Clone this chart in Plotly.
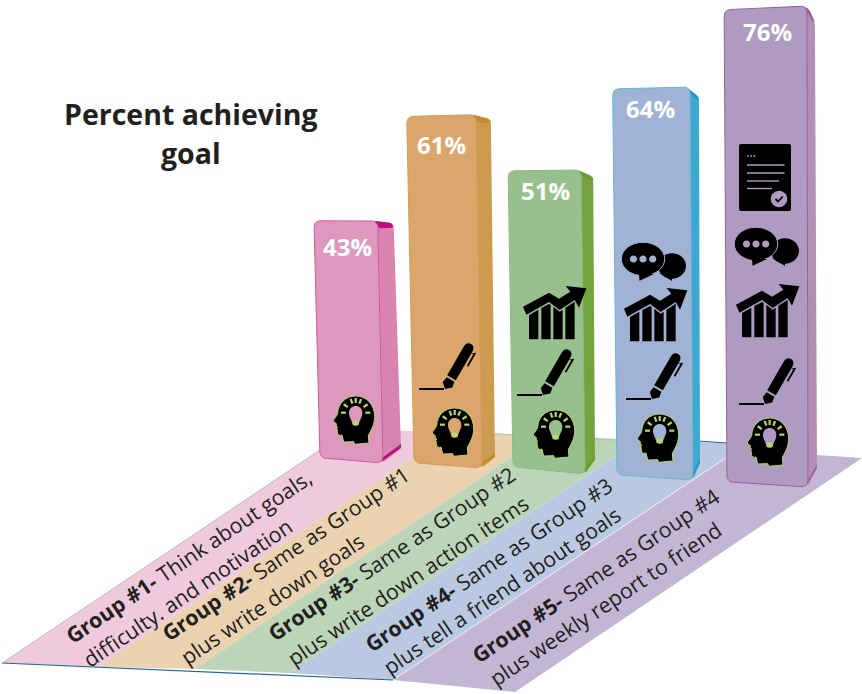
import math
import re
import plotly.graph_objects as go

# ---- chart data -------------------------------------------------------
groups = ["Group #1", "Group #2", "Group #3", "Group #4", "Group #5"]
percent_achieving = [43, 61, 51, 64, 76]
first_lines = [
    "<b>Group #1-</b> Think about goals,",
    "<b>Group #2-</b> Same as Group #1",
    "<b>Group #3-</b> Same as Group #2",
    "<b>Group #4-</b> Same as Group #3",
    "<b>Group #5-</b> Same as Group #4",
]
second_lines = [
    "difficulty. and motivation",
    "plus write down goals",
    "plus write down action items",
    "plus tell a friend about goals",
    "plus weekly report to friend",
]
title_lines = ["Percent achieving", "goal"]

# ---- palette ----------------------------------------------------------
front_colors = ["#de98bd", "#dba66b", "#98c08f", "#a0b3d4", "#af9bc2"]
side_colors = ["#d984b0", "#cc9b50", "#73a23f", "#3da9d0", "#b28fb6"]
trim_colors = ["#bd0f7f", "#c48a30", "#6c9a38", "#1f93c0", "#9a5f9f"]
edge_colors = ["#d05aa0", "#d59c55", "#8dbb80", "#62b6d6", "#9a5f9f"]
floor_colors = ["#efc9dc", "#ebd2b0", "#bcd5b8", "#bac9e1", "#c2b6d4"]
INK = "#231f20"
LIME = "#b9d765"

# ---- scene layout: bars stand on a floor seen in perspective ----------
foot_right_x = [383, 482, 585, 693, 808]
foot_right_y = [463, 468, 474, 480, 487]
foot_width = [63, 68, 72, 76, 81]
foot_tilt = [5, 5, 7, 5, 5]
top_tilt = [0, 2, 1, 2, 4]
side_top = [(16, 3), (15, 5), (12, 7), (9, 10), (8, 17)]
side_foot = [(18, -15), (13, -11), (10, -14), (7, -17), (9, -19)]
trim_depth = [6, 6, 6, 6, 1]
label_xy = [(347, 246), (441, 144), (545, 190), (650, 108), (767, 31)]
head_xy = [(333, 396), (432, 408), (533, 410), (637, 414), (747, 418)]
pen_tip_xy = [None, (445, 389), (543, 395), (652, 399), (765, 404)]
trend_xy = [None, None, (523, 286), (624, 288), (736, 284)]
talk_xy = [None, None, None, (643, 259), (756, 244)]
report_xy = [None, None, None, None, (739, 144)]
first_line_xy = [(188, 556), (285, 553), (391, 553), (488, 564), (595, 575)]
second_line_xy = [(187, 592), (272, 598), (407, 580), (501, 590), (605, 603)]
floor_strips = [
    [(2, 663), (98, 667), (413, 457), (413, 431), (351, 429)],
    [(98, 667), (195, 669), (512, 457), (512, 434), (413, 431), (413, 457)],
    [(195, 669), (290, 673), (617, 455), (617, 439), (512, 434), (512, 457)],
    [(290, 673), (393, 680), (727, 457), (727, 443), (617, 439), (617, 455)],
    [(393, 680), (515, 692), (862, 458), (727, 449), (727, 457)],
]
TEXT_ANGLE = -34
FONT = "Open Sans"


def unit_height(center_x):
    """Pixels per percentage point; nearer (right-hand) bars scale larger."""
    return 5.63 + 0.00168 * (center_x - 350)


def lean(x):
    """Horizontal drift per pixel of height, converging towards the right."""
    return (855 - x) * 4.67e-5


def rounded(points, radius):
    """Closed polygon with quadratic-rounded corners, as x and y lists."""
    xs, ys = [], []
    n = len(points)
    for i in range(n):
        p0, p1, p2 = points[i - 1], points[i], points[(i + 1) % n]
        d0 = math.dist(p0, p1)
        d2 = math.dist(p2, p1)
        r = min(radius, d0 / 2, d2 / 2)
        a = (p1[0] + (p0[0] - p1[0]) * r / d0, p1[1] + (p0[1] - p1[1]) * r / d0)
        b = (p1[0] + (p2[0] - p1[0]) * r / d2, p1[1] + (p2[1] - p1[1]) * r / d2)
        for k in range(7):
            t = k / 6
            xs.append((1 - t) ** 2 * a[0] + 2 * t * (1 - t) * p1[0] + t ** 2 * b[0])
            ys.append((1 - t) ** 2 * a[1] + 2 * t * (1 - t) * p1[1] + t ** 2 * b[1])
    xs.append(xs[0])
    ys.append(ys[0])
    return xs, ys


def polygon_trace(points, fill, line=None, width=0, radius=0):
    if radius:
        xs, ys = rounded(points, radius)
    else:
        xs = [p[0] for p in points] + [points[0][0]]
        ys = [p[1] for p in points] + [points[0][1]]
    return go.Scatter(
        x=xs, y=ys, mode="lines", fill="toself", fillcolor=fill,
        line=dict(color=line or fill, width=width), hoverinfo="skip", showlegend=False,
    )


def place(path, ox, oy, s=1.0, rot=0.0):
    """Scale, rotate and move an absolute-coordinate SVG path."""
    c, n = math.cos(math.radians(rot)), math.sin(math.radians(rot))

    def repl(m):
        x, y = float(m.group(1)) * s, float(m.group(2)) * s
        return f"{ox + x * c - y * n:.2f} {oy + x * n + y * c:.2f}"

    return re.sub(r"(-?\d+\.?\d*) (-?\d+\.?\d*)", repl, path)


def ellipse(cx, cy, rx, ry):
    k = 0.5523
    return (
        f"M{cx - rx} {cy} C{cx - rx} {cy - k * ry} {cx - k * rx} {cy - ry} {cx} {cy - ry} "
        f"C{cx + k * rx} {cy - ry} {cx + rx} {cy - k * ry} {cx + rx} {cy} "
        f"C{cx + rx} {cy + k * ry} {cx + k * rx} {cy + ry} {cx} {cy + ry} "
        f"C{cx - k * rx} {cy + ry} {cx - rx} {cy + k * ry} {cx - rx} {cy} Z"
    )


def shape(path, fill="black", line=None, width=0):
    return dict(
        type="path", path=path, xref="x", yref="y", layer="above",
        fillcolor=fill, line=dict(color=line or fill, width=width),
    )


def stroke(path, color, width):
    return dict(
        type="path", path=path, xref="x", yref="y", layer="above",
        line=dict(color=color, width=width),
    )


HEAD = (
    "M68 0 C100 0 125 25 125 62 C125 85 115 102 106 118 L108 141 L65 145 L62 137 "
    "L32 138 L27 117 C20 120 14 117 13 108 C12 103 14 100 11 97 L14 93 C9 90 9 87 "
    "11 84 L0 75 C3 68 12 60 14 52 C15 22 38 0 68 0 Z"
)
BULB = "M48 52 C48 23 88 23 88 52 C88 64 79 72 77 88 L59 88 C57 72 48 64 48 52 Z"
BULB_BASE = "M59 74 L77 74 L77 83 C75 91 61 91 59 83 Z"


def head_icon(ox, oy, bar_color):
    s = 1 / 3
    out = [shape(place(HEAD, ox, oy, s), "black", LIME, 1)]
    for angle in (180, 215, 250, 270, 292, 325, 360):
        a = math.radians(angle)
        ray = (
            f"M{68 + 29 * math.cos(a):.1f} {50 + 29 * math.sin(a):.1f} "
            f"L{68 + 44 * math.cos(a):.1f} {50 + 44 * math.sin(a):.1f}"
        )
        out.append(stroke(place(ray, ox, oy, s), LIME, 2.2))
    out.append(shape(place(BULB, ox, oy, s), bar_color))
    out.append(shape(place(BULB_BASE, ox, oy, s), LIME))
    return out


PEN_TIP = "M0 0 L5 -5.5 L11 -4.5 L11 4.5 L5 5.5 Z"
PEN_BODY = "M13 -5 L46 -5 C50 -5 52 -3 52 0 C52 3 50 5 46 5 L13 5 Z"
PEN_CLIP = "M44 5 L47 9 L31 9 L31 7.2 L44 7.2 Z"


def pen_icon(tip_x, tip_y):
    out = [stroke(f"M{tip_x - 26} {tip_y} L{tip_x - 1} {tip_y}", "black", 2)]
    for part in (PEN_TIP, PEN_BODY, PEN_CLIP):
        out.append(shape(place(part, tip_x, tip_y, 1, -60), "black"))
    return out


TREND_BAND = (
    "M0 62 L78 20 L108 38 L142 17 L128 0 L190 7 L168 65 L155 42 L110 72 L78 48 L10 86 Z"
)
TREND_COLS = [
    "M18 87 L46 71 L46 160 L18 160 Z",
    "M55 66 L78 54 L83 57 L83 160 L55 160 Z",
    "M91 62 L110 77 L119 71 L119 160 L91 160 Z",
    "M127 65 L155 47 L155 160 L127 160 Z",
]


def trend_icon(ox, oy):
    s = 1 / 3
    out = [shape(place(TREND_BAND, ox, oy, s))]
    out += [shape(place(col, ox, oy, s)) for col in TREND_COLS]
    return out


def talk_icon(cx, cy, bar_color):
    out = [
        shape(ellipse(cx + 29, cy + 7, 14, 12.7)),
        shape(f"M{cx + 16} {cy + 14} L{cx + 29} {cy + 17} L{cx + 29} {cy + 22} Z"),
        shape(ellipse(cx, cy, 21.7, 16.7), "black", bar_color, 1),
        shape(f"M{cx - 4} {cy + 15} L{cx + 11} {cy + 15} L{cx - 3.5} {cy + 21.7} Z"),
    ]
    for dx in (-9.5, 0, 9.7):
        out.append(shape(ellipse(cx + dx, cy, 3.6, 3.6), bar_color))
    return out


def report_icon(ox, oy, bar_color):
    w, h, r = 52, 67, 2
    out = [shape(
        f"M{ox + r} {oy} L{ox + w - r} {oy} Q{ox + w} {oy} {ox + w} {oy + r} "
        f"L{ox + w} {oy + h - r} Q{ox + w} {oy + h} {ox + w - r} {oy + h} "
        f"L{ox + r} {oy + h} Q{ox} {oy + h} {ox} {oy + h - r} L{ox} {oy + r} "
        f"Q{ox} {oy} {ox + r} {oy} Z", "black")]
    for k in range(3):
        out.append(shape(ellipse(ox + 9 + 3.2 * k, oy + 12, 0.9, 0.9), bar_color))
    for dy, length in ((21, 37.5), (29, 37.5), (37, 32), (44.5, 25)):
        out.append(stroke(f"M{ox + 8} {oy + dy} L{ox + 8 + length} {oy + dy}", bar_color, 1.4))
    out.append(shape(ellipse(ox + 40, oy + 55, 8.2, 8.2), bar_color))
    out.append(stroke(f"M{ox + 36.5} {oy + 55} L{ox + 39} {oy + 57.5} L{ox + 43.8} {oy + 52.5}", "black", 1.8))
    return out


# ---- assemble the figure ----------------------------------------------
fig = go.Figure()
shapes = []
annotations = []

for pts, col in zip(floor_strips, floor_colors):
    fig.add_trace(polygon_trace(pts, col))

# floor rims
rims = [
    ([2, 393], [663, 680], "#1f6a94", 1.2),
    ([2, 320], [663, 450], "#a9b4cf", 0.8),
    ([393, 727], [680, 457], "#eef1f7", 1.0),
    ([480, 617], [433, 440], "#8fbfc4", 0.8),
    ([697, 727], [441, 443], "#1f6a94", 1.2),
]
for rx, ry, col, w in rims:
    fig.add_trace(go.Scatter(x=rx, y=ry, mode="lines", line=dict(color=col, width=w),
                             hoverinfo="skip", showlegend=False))

for i, value in enumerate(percent_achieving):
    xr, yb = foot_right_x[i], foot_right_y[i]
    xl = xr - foot_width[i]
    h = value * unit_height((xl + xr) / 2)
    yt = yb - h
    br, bl = (xr, yb), (xl, yb - foot_tilt[i])
    tr = (xr - lean(xr) * h, yt)
    tl = (xl - lean(xl) * h, yt + top_tilt[i])
    st = (tr[0] + side_top[i][0], tr[1] + side_top[i][1])
    sb = (br[0] + side_foot[i][0], br[1] + side_foot[i][1])

    # side panel, darker top and bottom trim, then the face with its rounded corners
    fig.add_trace(polygon_trace([(tr[0] - 4, tr[1]), st, sb, br], side_colors[i], radius=3))
    d = trim_depth[i]
    fig.add_trace(polygon_trace(
        [(tr[0] - 4, tr[1]), (st[0] - 2, st[1] - 1), (st[0], st[1] + d - 2), (tr[0] + 2, tr[1] + d + 2)],
        trim_colors[i], radius=3))
    fig.add_trace(polygon_trace(
        [(sb[0], sb[1] - 4), sb, (br[0] - 2, br[1] - 1), (br[0] - 1, br[1] - 5)],
        trim_colors[i]))
    fig.add_trace(polygon_trace([tl, tr, br, bl], front_colors[i],
                                edge_colors[i], 1, radius=7))

    annotations.append(dict(
        x=label_xy[i][0], y=label_xy[i][1], text=f"<b>{value}%</b>", showarrow=False,
        font=dict(family=FONT, size=24, color="white"),
    ))

    shapes += head_icon(*head_xy[i], front_colors[i])
    if pen_tip_xy[i]:
        shapes += pen_icon(*pen_tip_xy[i])
    if trend_xy[i]:
        shapes += trend_icon(*trend_xy[i])
    if talk_xy[i]:
        shapes += talk_icon(*talk_xy[i], front_colors[i])
    if report_xy[i]:
        shapes += report_icon(*report_xy[i], front_colors[i])

for texts, spots in ((first_lines, first_line_xy), (second_lines, second_line_xy)):
    for text, (x, y) in zip(texts, spots):
        annotations.append(dict(
            x=x, y=y, text=text, showarrow=False, textangle=TEXT_ANGLE,
            font=dict(family=FONT, size=21.3, color=INK),
        ))

for line, y in zip(title_lines, (114, 153)):
    annotations.append(dict(
        x=191, y=y, text=f"<b>{line}</b>", showarrow=False,
        font=dict(family=FONT, size=28.5, color=INK),
    ))

fig.update_layout(
    width=862, height=694, margin=dict(l=0, r=0, t=0, b=0),
    paper_bgcolor="white", plot_bgcolor="white", showlegend=False,
    xaxis=dict(range=[0, 862], visible=False, fixedrange=True),
    yaxis=dict(range=[694, 0], visible=False, fixedrange=True),
    shapes=shapes, annotations=annotations,
)
fig.write_html("out.html", config={"displayModeBar": False})
